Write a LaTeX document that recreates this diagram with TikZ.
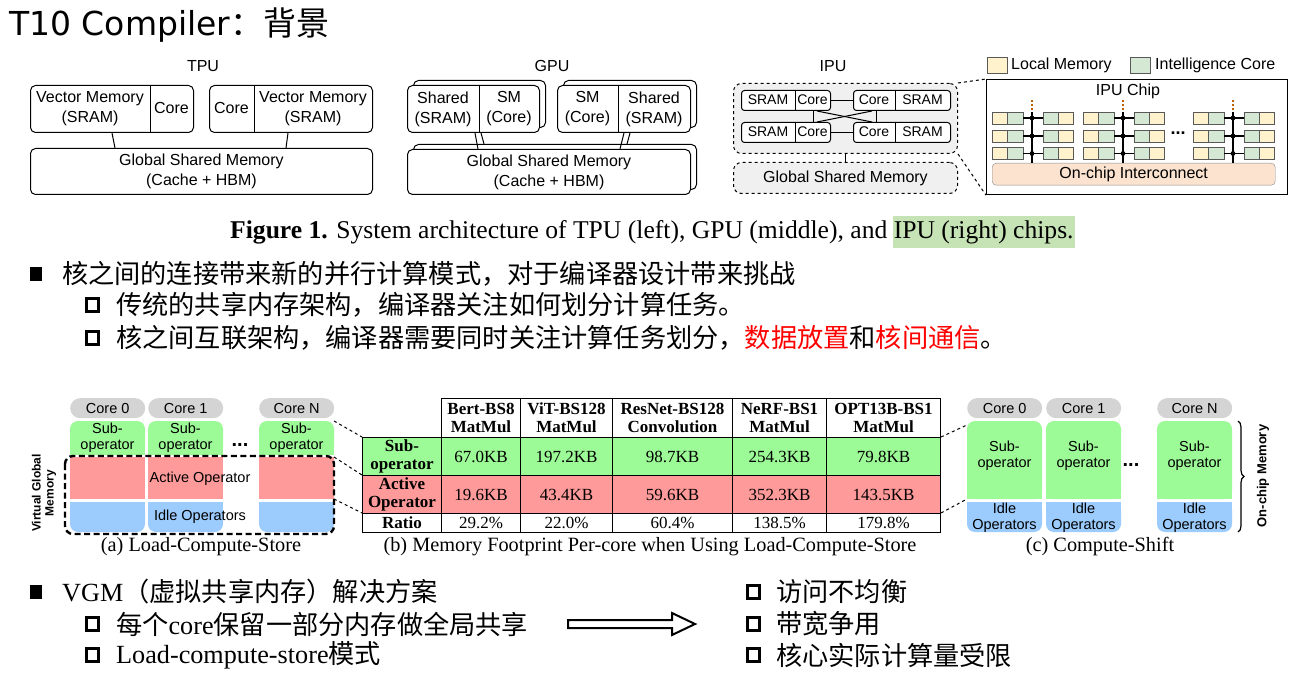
\documentclass[tikz,border=0pt]{standalone}
\usepackage{fontspec}
\setmainfont{Liberation Serif}
\setsansfont{Liberation Sans}
\newfontfamily\cjk{Noto Sans CJK SC}
\newfontfamily\ttlfont{DejaVu Sans}
\usetikzlibrary{decorations.pathreplacing}

\definecolor{lmem}{HTML}{FFF2CC}
\definecolor{icore}{HTML}{D5E8D4}
\definecolor{noc}{HTML}{FBE3D0}
\definecolor{ipugray}{HTML}{F0F0F0}
\definecolor{subop}{HTML}{9CFB96}
\definecolor{actop}{HTML}{FF9A9A}
\definecolor{idleop}{HTML}{9CCBFD}
\definecolor{corelbl}{HTML}{D4D4D4}
\definecolor{hlgreen}{HTML}{C6E3B5}

\tikzset{
  arch/.style={draw, line width=1pt, rounded corners=5pt, fill=white, inner sep=0pt, anchor=north west},
  archtxt/.style={font=\sffamily\fontsize{16}{20}\selectfont, align=center, inner sep=0pt},
  ipubox/.style={draw, dashed, line width=1pt, rounded corners=8pt, fill=ipugray, inner sep=0pt, anchor=north west, font=\sffamily\fontsize{16}{20}\selectfont},
  ipublk/.style={draw, line width=1pt, rounded corners=3pt, fill=white, inner sep=0pt, anchor=north west, minimum height=20},
  ipulbl/.style={font=\sffamily\fontsize{14}{16}\selectfont, inner sep=0pt},
  tile/.style={draw=black!65, line width=0.8pt},
  pill/.style={fill=corelbl, rounded corners=10pt, minimum width=75, minimum height=20, inner sep=0pt, anchor=north west, font=\sffamily\fontsize{14.5}{16}\selectfont},
  smalltxt/.style={font=\sffamily\fontsize{14.5}{16}\selectfont, align=center, inner sep=0pt},
  tcell/.style={draw, line width=1pt, inner sep=0pt, anchor=north west, align=center},
  tval/.style={font=\fontsize{17}{18}\selectfont},
  thead/.style={font=\bfseries\fontsize{17}{18}\selectfont},
  captxt/.style={font=\fontsize{20.3}{22}\selectfont, inner sep=0pt},
  bultxt/.style={font=\fontsize{26.2}{30}\selectfont, inner sep=0pt, anchor=west},
  sqfill/.style={fill, minimum width=12.5, minimum height=14.5, inner sep=0pt},
  sqopen/.style={draw, line width=3pt, minimum width=12, minimum height=12.5, inner sep=0pt},
}

\begin{document}
\begin{tikzpicture}[x=1pt, y=-1pt]
	\path[fill=white] (0,0) rectangle (1294,674);
	\useasboundingbox (0,0) rectangle (1294,674);

	% Title
	\node[anchor=base west, inner sep=0pt, font=\ttlfont\fontsize{33}{36}\selectfont] (title) at (9,36) {T10 Compiler{\cjk ：背景}};

	% TPU
	\node[archtxt] (tpulbl) at (203,66) {TPU};
	\node[arch, minimum width=163, minimum height=47] (tpuA) at (30,85) {};
	\draw[line width=1pt] (150,0 |- tpuA.north) -- (150,0 |- tpuA.south);
	\node[archtxt] at (90,109) {Vector Memory\\(SRAM)};
	\node[archtxt] at (171.5,108) {Core};
	\node[arch, minimum width=163, minimum height=47] (tpuB) at (209,85) {};
	\draw[line width=1pt] (254,0 |- tpuB.north) -- (254,0 |- tpuB.south);
	\node[archtxt] at (231.5,108) {Core};
	\node[archtxt] at (313,109) {Vector Memory\\(SRAM)};
	\node[arch, minimum width=342, minimum height=46] (tpuG) at (30,148) {};
	\node[archtxt] at (tpuG.center) {Global Shared Memory\\(Cache + HBM)};
	\draw[line width=1pt] (112,0 |- tpuA.south) -- (115,0 |- tpuG.north);
	\draw[line width=1pt] (288,0 |- tpuB.south) -- (286,0 |- tpuG.north);

	% GPU
	\node[archtxt] (gpulbl) at (552,66) {GPU};
	\node[arch, minimum width=132, minimum height=47] (gpuAb) at (413,80) {};
	\node[arch, minimum width=132, minimum height=47] (gpuA) at (407,85) {};
	\draw[line width=1pt] (479,0 |- gpuA.north) -- (479,0 |- gpuA.south);
	\node[archtxt] at (443,109) {Shared\\(SRAM)};
	\node[archtxt] at (509,109) {SM\\(Core)};
	\node[arch, minimum width=133, minimum height=47] (gpuBb) at (563,80) {};
	\node[arch, minimum width=133, minimum height=47] (gpuB) at (557,85) {};
	\draw[line width=1pt] (618,0 |- gpuB.north) -- (618,0 |- gpuB.south);
	\node[archtxt] at (587.5,109) {SM\\(Core)};
	\node[archtxt] at (654,109) {Shared\\(SRAM)};
	\node[arch, minimum width=283, minimum height=45] (gpuGb) at (413,144) {};
	\node[arch, minimum width=283, minimum height=45] (gpuG) at (407,149) {};
	\node[archtxt] at (gpuG.center) {Global Shared Memory\\(Cache + HBM)};
	\draw[line width=1pt] (475,0 |- gpuA.south) -- (478,0 |- gpuG.north);
	\draw[line width=1pt] (481,0 |- gpuA.south) -- (484,0 |- gpuGb.north);
	\draw[line width=1pt] (624,0 |- gpuB.south) -- (620,0 |- gpuG.north);
	\draw[line width=1pt] (630,0 |- gpuB.south) -- (627,0 |- gpuGb.north);

	% IPU
	\node[archtxt] (ipulbl) at (833,66) {IPU};
	\node[ipubox, minimum width=224, minimum height=70] (ipuC) at (733,83) {};
	\node[ipubox, minimum width=224, minimum height=31] (ipuG) at (733,162) {Global Shared Memory};
	\draw[line width=1pt] (845,0 |- ipuC.south) -- (845,0 |- ipuG.north);
	\node[ipublk, minimum width=89] (ipuTL) at (741,90) {};
	\node[ipublk, minimum width=97] (ipuTR) at (853,90) {};
	\node[ipublk, minimum width=89] (ipuBL) at (741,122) {};
	\node[ipublk, minimum width=97] (ipuBR) at (853,122) {};
	\foreach \ry in {90,122} {
		\draw[line width=1pt] (795,\ry) -- (795,\ry+20);
		\draw[line width=1pt] (895,\ry) -- (895,\ry+20);
		\node[ipulbl] at (768,\ry+10) {SRAM};
		\node[ipulbl] at (812.5,\ry+10) {Core};
		\node[ipulbl] at (874,\ry+10) {Core};
		\node[ipulbl] at (922.5,\ry+10) {SRAM};
	}
	\draw[line width=1pt] (ipuTL.east) -- (ipuTR.west);
	\draw[line width=1pt] (ipuBL.east) -- (ipuBR.west);
	\draw[line width=1pt] (813,0 |- ipuTL.south) -- (813,0 |- ipuBL.north);
	\draw[line width=1pt] (876,0 |- ipuTR.south) -- (876,0 |- ipuBR.north);
	\draw[line width=1pt] (817,0 |- ipuTL.south) -- (872,0 |- ipuBR.north);
	\draw[line width=1pt] (817,0 |- ipuBL.north) -- (872,0 |- ipuTR.south);

	% IPU chip
	\node[draw, line width=1.2pt, anchor=north west, minimum width=301, minimum height=115, inner sep=0pt] (chip) at (986,79) {};
	\draw[dashed, line width=1pt] (ipuC.north east) -- (chip.north west);
	\draw[dashed, line width=1pt] (ipuC.south east) -- (chip.south west);
	\node[archtxt] at (1128,91) {IPU Chip};
	\node[tile, fill=lmem, minimum width=20, minimum height=16, inner sep=0pt] (lgA) at (997,65) {};
	\node[archtxt, anchor=west] at (1011,65) {Local Memory};
	\node[tile, fill=icore, minimum width=20, minimum height=16, inner sep=0pt] (lgB) at (1140,65) {};
	\node[archtxt, anchor=west] at (1155,65) {Intelligence Core};
	\node[draw=black!45, fill=noc, rounded corners=4pt, anchor=north west, minimum width=283, minimum height=22, inner sep=0pt, font=\sffamily\fontsize{16}{20}\selectfont] (ocn) at (992,163) {On-chip Interconnect};
	\foreach \g in {992,1083,1193} {
		\draw[line width=1.4pt, dash pattern=on 2pt off 2pt, orange!75!black] (\g+40,100) -- (\g+40,112);
		\draw[line width=1.6pt] (\g+40,112) -- (\g+40,0 |- ocn.north);
		\foreach \ry in {118,136,153.5} {
			\draw[tile, fill=lmem] (\g,\ry-6) rectangle ++(15,12);
			\draw[tile, fill=icore] (\g+15,\ry-6) rectangle ++(16,12);
			\draw[tile, fill=icore] (\g+51,\ry-6) rectangle ++(15,12);
			\draw[tile, fill=lmem] (\g+66,\ry-6) rectangle ++(15,12);
			\draw[line width=1.6pt] (\g+31,\ry) -- (\g+51,\ry);
			\fill (\g+40,\ry) circle (2.4);
		}
	}
	\node[font=\sffamily\bfseries\fontsize{18}{18}\selectfont] at (1178,133) {...};

	% Figure caption
	\node[anchor=base west, inner sep=0pt, font=\fontsize{25.6}{28}\selectfont] (capA) at (230,238) {\textbf{Figure 1.} System architecture of TPU (left), GPU (middle), and};
	\node[anchor=base west, fill=hlgreen, inner xsep=1pt, inner ysep=4pt, font=\fontsize{25.6}{28}\selectfont] (capB) at ([xshift=5pt]capA.base east) {IPU (right) chips.};

	% First bullet list
	\node[sqfill] (q1) at (36,274) {};
	\node[bultxt] (t1) at (62,274) {\cjk 核之间的连接带来新的并行计算模式，对于编译器设计带来挑战};
	\node[sqopen] (q2) at (92,305) {};
	\node[bultxt] (t2) at (116,305) {\cjk 传统的共享内存架构，编译器关注如何划分计算任务。};
	\node[sqopen] (q3) at (92,338) {};
	\node[bultxt] (t3) at (116,338) {\cjk 核之间互联架构，编译器需要同时关注计算任务划分，\textcolor{red}{数据放置}和\textcolor{red}{核间通信}。};

	% (a) Load-Compute-Store
	\foreach \x/\lbl [count=\i] in {70/Core 0,148/Core 1,259/Core N} {
		\node[pill] (ca\i) at (\x,398) {\lbl};
		\fill[subop, rounded corners=8pt] (\x,421) rectangle ++(75,34);
		\fill[subop] (\x,438) rectangle ++(75,17);
		\node[smalltxt] at (\x+37.5,438) {Sub-\\operator};
		\fill[actop] (\x,457) rectangle ++(75,42);
		\fill[idleop, rounded corners=8pt] (\x,502) rectangle ++(75,30);
		\fill[idleop] (\x,502) rectangle ++(75,15);
	}
	\node[smalltxt] at (200,479) {Active Operator};
	\node[smalltxt] at (200,517) {Idle Operators};
	\node[font=\sffamily\bfseries\fontsize{20}{20}\selectfont] at (240,445) {...};
	\draw[line width=2.4pt, dash pattern=on 6pt off 3.5pt, rounded corners=8pt] (65,456) rectangle (334,534);
	\node[rotate=90, align=center, inner sep=0pt, font=\sffamily\bfseries\fontsize{12}{13}\selectfont] at (44,493) {Virtual Global\\Memory};
	\node[captxt] at (201,547) {(a) Load-Compute-Store};
	\coordinate (aTop) at (334,421);
	\coordinate (aMid) at (334,457);
	\coordinate (aBot) at (334,499);

	% (b) table
	\node[tcell, thead, fill=subop, minimum width=79, minimum height=38] (tSub) at (362,437) {Sub-\\operator};
	\node[tcell, thead, fill=actop, minimum width=79, minimum height=38] (tAct) at (362,475) {Active\\Operator};
	\node[tcell, thead, minimum width=79, minimum height=19] (tRat) at (362,513) {Ratio};
	\foreach \cx/\w/\ha/\hb/\vs/\va/\vr [count=\i] in {441/79/Bert-BS8/MatMul/67.0KB/19.6KB/29.2\%, 520/92/ViT-BS128/MatMul/197.2KB/43.4KB/22.0\%, 612/120/ResNet-BS128/Convolution/98.7KB/59.6KB/60.4\%, 732/94/NeRF-BS1/MatMul/254.3KB/352.3KB/138.5\%, 826/114/OPT13B-BS1/MatMul/79.8KB/143.5KB/179.8\%} {
		\node[tcell, thead, minimum width=\w, minimum height=39] (h\i) at (\cx,398) {\ha\\\hb};
		\node[tcell, tval, fill=subop, minimum width=\w, minimum height=38] (s\i) at (\cx,437) {\vs};
		\node[tcell, tval, fill=actop, minimum width=\w, minimum height=38] (a\i) at (\cx,475) {\va};
		\node[tcell, tval, minimum width=\w, minimum height=19] (r\i) at (\cx,513) {\vr};
	}
	\draw[dashed, line width=1pt] (aTop) -- (tSub.north west);
	\draw[dashed, line width=1pt] (aMid) -- (tAct.north west);
	\draw[dashed, line width=1pt] (aBot) -- (tRat.north west);
	\node[captxt] at (650,547) {(b) Memory Footprint Per-core when Using Load-Compute-Store};

	% (c) Compute-Shift
	\foreach \x/\lbl [count=\i] in {967/Core 0,1046/Core 1,1157/Core N} {
		\node[pill] (cc\i) at (\x,398) {\lbl};
		\fill[subop, rounded corners=8pt] (\x,421) rectangle ++(75,78);
		\fill[subop] (\x,460) rectangle ++(75,39);
		\node[smalltxt] at (\x+37.5,456) {Sub-\\operator};
		\fill[idleop, rounded corners=8pt] (\x,502) rectangle ++(75,30);
		\fill[idleop] (\x,502) rectangle ++(75,15);
		\node[smalltxt] at (\x+37.5,517.5) {Idle\\Operators};
	}
	\node[font=\sffamily\bfseries\fontsize{20}{20}\selectfont] at (1131,465) {...};
	\coordinate (cTop) at (967,425);
	\coordinate (cBot) at (967,499);
	\draw[dashed, line width=1pt] (s5.north east) -- (cTop);
	\draw[dashed, line width=1pt] (r5.north east) -- (cBot);
	\draw[decorate, decoration={brace, amplitude=6pt}, line width=1.2pt] (1238,421) -- (1238,532);
	\node[rotate=90, inner sep=0pt, font=\sffamily\bfseries\fontsize{13}{14}\selectfont] at (1263,476) {On-chip Memory};
	\node[captxt] at (1100,547) {(c) Compute-Shift};

	% Second bullet list
	\node[sqfill] (q4) at (36,592) {};
	\node[bultxt] (t4) at (62,592) {VGM{\cjk （虚拟共享内存）解决方案}};
	\node[sqopen] (q5) at (92,624) {};
	\node[bultxt] (t5) at (116,624) {{\cjk 每个}core{\cjk 保留一部分内存做全局共享}};
	\node[sqopen] (q6) at (92,655) {};
	\node[bultxt] (t6) at (116,655) {Load-compute-store{\cjk 模式}};
	\draw[line width=2pt, fill=white] (568,620) -- (672,620) -- (672,613) -- (695,624) -- (672,635) -- (672,628) -- (568,628) -- cycle;
	\node[sqopen] (q7) at (753,592) {};
	\node[bultxt] (t7) at (776,592) {\cjk 访问不均衡};
	\node[sqopen] (q8) at (753,624) {};
	\node[bultxt] (t8) at (776,624) {\cjk 带宽争用};
	\node[sqopen] (q9) at (753,655) {};
	\node[bultxt] (t9) at (776,655) {\cjk 核心实际计算量受限};
\end{tikzpicture}
\end{document}
